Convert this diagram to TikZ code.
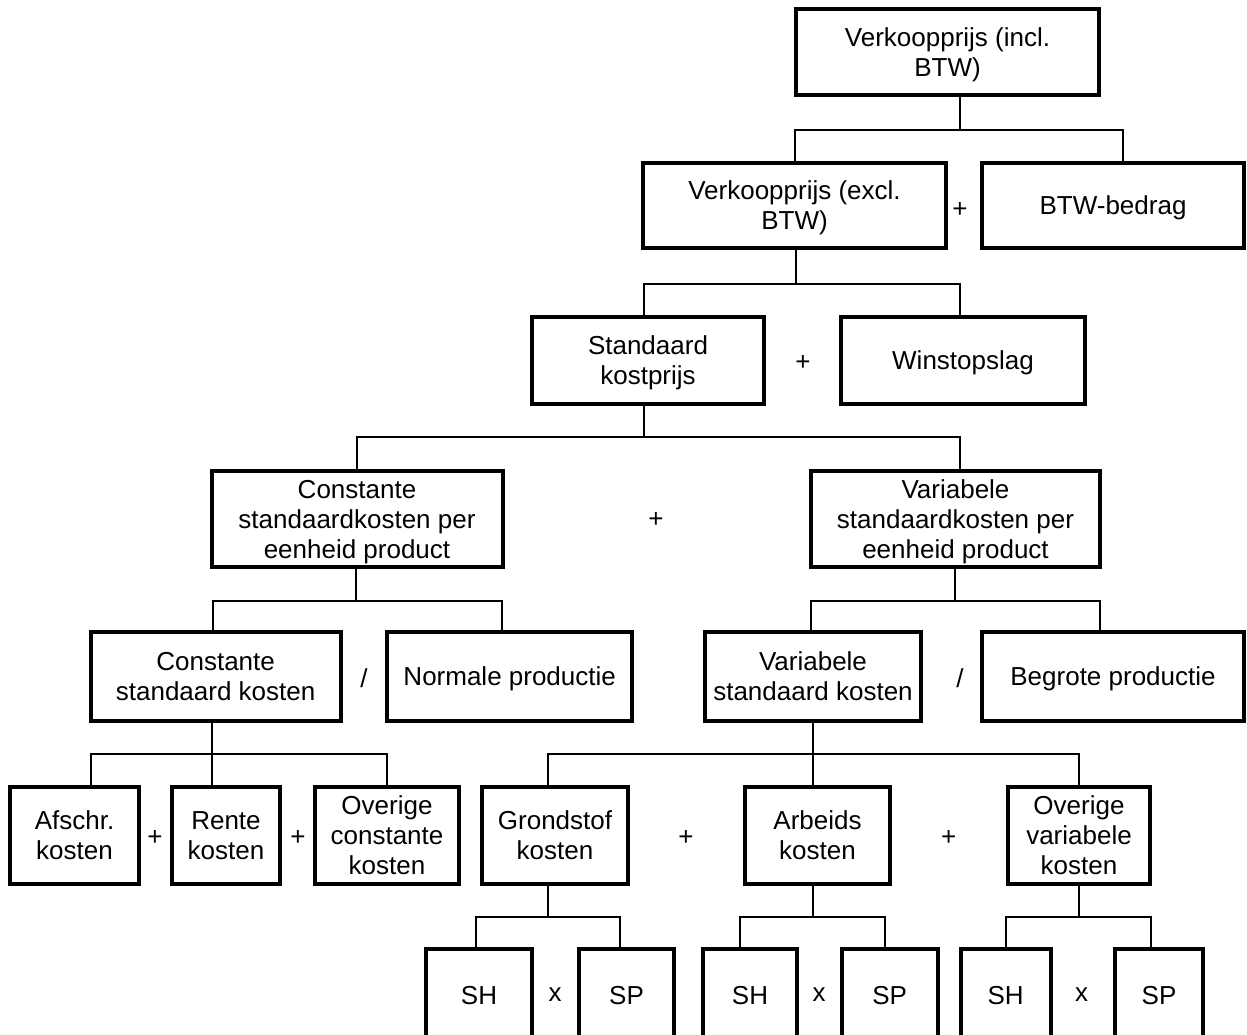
\documentclass[tikz,border=0pt]{standalone}
\usepackage{fontspec}
\setmainfont{Liberation Sans}
\usepackage{tikz}
\usetikzlibrary{positioning, calc}
\tikzstyle{kader} = [rectangle, draw=black, line width=2pt, align=center, inner sep=1pt, font=\fontsize{13}{15}\selectfont, text height=11.7pt, text depth=2.7pt]
\tikzstyle{twee} = [text height=26.7pt]
\tikzstyle{drie} = [text height=41.7pt]
\tikzstyle{teken} = [inner sep=1pt, font=\fontsize{13}{15}\selectfont]
\tikzstyle{lijn} = [line width=1pt]
\tikzset{maat/.style 2 args={minimum width=#1*0.5pt, minimum height=#2*0.5pt}}

\begin{document}
\begin{tikzpicture}[x=0.5pt, y=-0.5pt]
    \useasboundingbox (0,0) rectangle (1247,1034);
    \clip (0,0) rectangle (1247,1034);

    % Verkoopprijs
    \node[kader, twee, maat={303}{86}] (incl) at (947.5,52) {Verkoopprijs (incl.\\BTW)};
    \node[kader, twee, maat={303}{85}] (excl) at (794.5,205.5) {Verkoopprijs (excl.\\BTW)};
    \node[kader, maat={262}{85}] (btw) at (1113,205.5) {BTW-bedrag};
    \node[teken] (plus1) at (960,210) {+};

    % Kostprijs en winst
    \node[kader, twee, maat={232}{87}] (standaard) at (648,360.5) {Standaard\\kostprijs};
    \node[kader, maat={244}{87}] (winst) at (963,360.5) {Winstopslag};
    \node[teken] (plus2) at (803,363) {+};

    % Kosten per eenheid
    \node[kader, drie, maat={291}{96}] (constpe) at (357,519) {Constante\\standaardkosten per\\eenheid product};
    \node[kader, drie, maat={289}{96}] (varpe) at (955.5,519) {Variabele\\standaardkosten per\\eenheid product};
    \node[teken] (plus3) at (656,520) {+};

    % Totale kosten / productie
    \node[kader, twee, maat={250}{89}] (conststd) at (215.6,676.5) {Constante\\standaard kosten};
    \node[kader, maat={245}{89}] (normaal) at (509.7,676.5) {Normale productie};
    \node[teken] (deel1) at (364,678) {/};
    \node[kader, twee, maat={216}{89}] (varstd) at (813,676.5) {Variabele\\standaard kosten};
    \node[kader, maat={262}{89}] (begroot) at (1113,676.5) {Begrote productie};
    \node[teken] (deel2) at (960,678) {/};

    % Kostensoorten
    \node[kader, twee, maat={129}{97}] (afschr) at (74.5,835.5) {Afschr.\\kosten};
    \node[kader, twee, maat={108}{97}] (rente) at (226,835.5) {Rente\\kosten};
    \node[kader, drie, maat={144}{97}] (overc) at (387,835.5) {Overige\\constante\\kosten};
    \node[teken] (plus4) at (155,838) {+};
    \node[teken] (plus5) at (298,838) {+};
    \node[kader, twee, maat={146}{97}] (grond) at (555,835.5) {Grondstof\\kosten};
    \node[kader, twee, maat={145}{97}] (arbeid) at (817.5,835.5) {Arbeids\\kosten};
    \node[kader, drie, maat={142}{97}] (overv) at (1079,835.5) {Overige\\variabele\\kosten};
    \node[teken] (plus6) at (686,838) {+};
    \node[teken] (plus7) at (948.6,838) {+};

    % SH x SP
    \node[kader, maat={106}{92}] (sh1) at (479,995) {SH};
    \node[kader, maat={95}{92}] (sp1) at (626.5,995) {SP};
    \node[teken] (maal1) at (555,995) {x};
    \node[kader, maat={94}{92}] (sh2) at (750,995) {SH};
    \node[kader, maat={96}{92}] (sp2) at (889.6,995) {SP};
    \node[teken] (maal2) at (819,995) {x};
    \node[kader, maat={90}{92}] (sh3) at (1005.7,995) {SH};
    \node[kader, maat={88}{92}] (sp3) at (1159,995) {SP};
    \node[teken] (maal3) at (1081.6,995) {x};

    % Verbindingen
    \coordinate (b1) at (960,130);
    \coordinate (b2) at (796,284);
    \coordinate (b3) at (644,437);
    \coordinate (b4) at (356,601);
    \coordinate (b5) at (955,601);
    \coordinate (b6) at (212,754);
    \coordinate (b7) at (813,754);
    \coordinate (b8) at (548,917);
    \coordinate (b9) at (813,917);
    \coordinate (b10) at (1079,917);

    \draw[lijn] (incl.south -| b1) -- (b1);
    \draw[lijn] (excl.north) |- (b1) -| ([xshift=5pt]btw.north);
    \draw[lijn] (excl.south -| b2) -- (b2);
    \draw[lijn] ([xshift=-2pt]standaard.north) |- (b2) -| ([xshift=-1.5pt]winst.north);
    \draw[lijn] (standaard.south -| b3) -- (b3);
    \draw[lijn] (constpe.north) |- (b3) -| ([xshift=2.25pt]varpe.north);
    \draw[lijn] (constpe.south -| b4) -- (b4);
    \draw[lijn] ([xshift=-1.5pt]conststd.north) |- (b4) -| ([xshift=-4pt]normaal.north);
    \draw[lijn] (varpe.south -| b5) -- (b5);
    \draw[lijn] ([xshift=-1pt]varstd.north) |- (b5) -| ([xshift=-6.5pt]begroot.north);
    \draw[lijn] (conststd.south -| b6) -- ([xshift=-7pt]rente.north);
    \draw[lijn] ([xshift=8.25pt]afschr.north) |- (b6) -| (overc.north);
    \draw[lijn] (varstd.south -| b7) -- ([xshift=-2.25pt]arbeid.north);
    \draw[lijn] ([xshift=-3.5pt]grond.north) |- (b7) -| (overv.north);
    \draw[lijn] ([xshift=-3.5pt]grond.south) -- (b8);
    \draw[lijn] ([xshift=-1.5pt]sh1.north) |- (b8) -| ([xshift=-3.25pt]sp1.north);
    \draw[lijn] ([xshift=-2.25pt]arbeid.south) -- (b9);
    \draw[lijn] ([xshift=-5pt]sh2.north) |- (b9) -| ([xshift=-2.3pt]sp2.north);
    \draw[lijn] (overv.south) -- (b10);
    \draw[lijn] (sh3.north) |- (b10) -| ([xshift=-4pt]sp3.north);
\end{tikzpicture}
\end{document}
